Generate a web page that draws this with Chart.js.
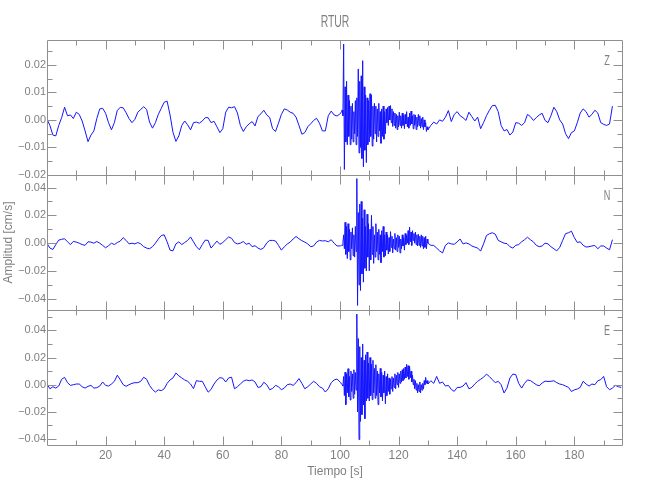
<!DOCTYPE html>
<html>
<head>
<meta charset="utf-8">
<title>RTUR</title>
<script src="https://cdn.jsdelivr.net/npm/chart.js@4.4.1/dist/chart.umd.min.js"></script>
<style>
  body { margin: 0; background: #fff; }
  #wrap { position: relative; width: 650px; height: 500px; }
  #wrap canvas { position: absolute; left: 0; top: 0; }
</style>
</head>
<body>
<div id="wrap">
  <canvas id="chartZ" width="650" height="500"></canvas>
  <canvas id="chartN" width="650" height="500"></canvas>
  <canvas id="chartE" width="650" height="500"></canvas>
</div>
<script>
// amplitudes, in 10^-3 cm/s
// pre: 1 s steps from 0 s, coda: 0.25 s steps from 100.25 s, post: 1 s steps from 130 s
const UNIT = 0.001;
const PRE_START = 0, PRE_STEP = 1;
const CODA_START = 100.25, CODA_STEP = 0.25;
const POST_START = 130, POST_STEP = 1;
const TIME_MAX = 196.6;

const zPre = [
  0.2, -2.0, -5.5, -5.8, -2.0, 0.8, 4.6, 1.5, 1.8, 0.5,
  2.8, 2.0, -0.4, -4.0, -7.9, -5.5, -4.0, 0.5, 4.0, 4.2,
  2.4, -1.0, -3.6, -1.0, 3.5, 4.5, 4.4, 2.6, 0.5, -1.0,
  0.2, 2.8, 3.8, 4.8, 3.8, -0.8, -3.0, -1.0, 2.0, 4.2,
  6.4, 6.8, 1.8, -4.5, -7.8, -5.8, -2.0, -0.4, -1.8, -3.6,
  -1.0, -0.8, -1.2, -0.4, 0.8, 0.8, -1.0, -0.5, -2.5, -4.6,
  -3.2, 2.8, 4.6, 4.4, 4.8, 2.5, -2.0, -4.2, -2.5, -1.4,
  -0.6, -2.2, 1.2, 2.2, 3.5, 1.8, 0.9, -3.2, -4.2, -1.2,
  2.0, 4.0, 3.6, 2.8, 2.4, 1.0, -2.0, -5.2, -4.6, -2.5,
  -1.4, -0.2, 0.6, -1.2, -4.0, -4.0, 1.5, 3.2, 1.8, 1.4,
  2.2
];
const zCoda = [
  2.4, 3.0, 3.6, 1.5, 27.5, -18, 12, -8, 14, -9,
  9, -6, 7, -9, 5, -7, 6, -8, 3, -5,
  7, -9, 8, -6, 18.5, -12, 14, -10, 16, -14,
  21.5, -17, 12, -11, 9, -15.5, 8, -9, 7, -8,
  9.5, -6, 9, -9.5, 5, -7, 6, -5, 5, -8,
  4, -6, 6, -4, 3, -8.5, 4, -6, 5, -7,
  3, -5, 4, -1, 4.5, -2, 5, 0, 5.2, -1,
  4, -2.4, 3, -2, 2.5, -3, 2, -3.5, 1.5, -2.5,
  2.8, -2, 1.5, -3, 2.5, -2, 1.8, -3.2, 2, -1.5,
  3, -2.5, 1, -3, 2.5, -2, 3.2, -1.5, 1.5, -3.2,
  2, -2, 1.8, -3.5, 1, -2.5, 2, -2, 1.5, -3,
  0.5, -2.5, 1, -3.5, 0, -2.5, -1, -4.2, -2.5
];
const zPost = [
  -3.6, -2.0, -0.8, -1.5, 0.0, -0.5, 1.0, 3.4, -0.6, 2.0,
  3.0, 1.5, 0.8, -0.2, 2.8, 1.2, -0.4, 1.0, -3.2, -1.0,
  1.5, 3.5, 5.2, 5.3, 3.0, -2.0, -4.0, -3.5, -5.5, -4.4,
  -1.0, -1.2, -2.0, -1.0, 2.0, 1.2, -0.2, 0.8, 1.8, 2.4,
  -0.2, -1.0, 1.5, 4.6, 3.0, 0, -1.5, -5.0, -6.8, -4.6,
  -4.0, -1.0, 2.5, 4.0, 3.0, 1.0, 2.0, 3.5, 2.5, -1.0,
  -1.6, -2.0, -1.5, 5.0
];

const nPre = [
  -0.2, -3.5, -4.5, -1.0, 2.2, 2.8, 3.2, 1.0, -1.0, 1.3,
  0.8, 0, -1.0, -1.5, 1.0, 0.8, 0, 1.2, 0, -1.6,
  -3.3, -1.8, 0, -1.0, 0.5, 1.5, 4.0, 2.0, -0.5, 0,
  -0.5, 0.5, -0.5, -2.5, -3.5, -4.0, -2.5, 0, 3.0, 5.5,
  6.0, 1.0, -5.0, -5.5, -0.5, 1.0, -1.0, 0.5, 2.0, 4.5,
  1.0, -2.5, -4.7, -1.0, 2.2, 2.0, -3.5, -1.0, 1.5, -0.8,
  0.5, 2.5, 4.5, 3.5, 0.5, -0.5, 0, 1.2, -0.8, 0,
  -2.5, -1.8, -3.5, -4.5, -3.2, 0.2, 2.0, 2.0, 1.6, -1.5,
  -5.0, -2.6, -0.6, 0.8, 3.0, 4.8, 3.2, 1.8, 0.8, -0.5,
  -2.5, -2.0, 0.8, 2.0, 1.6, 1.8, 1.0, 2.5, 0, -2.0,
  -2.0
];
const nCoda = [
  -1.8, -1.5, -1.6, 0.5, 6, -4, 15, -8, 12, -11,
  14, -6, 10, -12, 8, -4, 11, -9, 6, -10,
  12, -6, 46.4, -44.7, 22, -30, 28, -34, 30, -22,
  18, -28, 24, -18, 12, -20, 20.8, -10, 14, -19.8,
  10, -12, 20, -8, 12, -14.5, 6, -10, 14, -6,
  8, -12, 10, -8, 6, -14, 9, -6, 12, -10,
  6, -9, 8, -5, 6, -7.8, 4, -6, 8.3, -3,
  5, -7, 3, -4, 7, -5, 4, -6, 6, -3,
  5, -7, 3, -4, 6, -2, 4, -5, 7, -1,
  6, 0, 9, -1, 11.6, 1, 8, -1.6, 9, 2,
  7, 0, 8, -1, 6, -2, 6.5, -1.5, 5, -3,
  6, -2, 5, -4, 4, -3, 5, -4, 3
];
const nPost = [
  0, -1.5, -1.6, -3.5, -5.5, -7.0, -1.5, 0.2, -0.5, -0.8,
  1.0, 3.0, -0.5, 0.2, -0.5, -2.0, -2.8, -3.5, -5.7, -0.5,
  5.5, 6.8, 7.5, 6.5, 2.0, 1.0, 0, -0.3, -2.5, -3.5,
  -1.5, -1.0, 1.0, 2.5, 4.3, 2.5, 1.0, -1.5, -2.5, -2.0,
  0, -0.5, -2.5, -4.0, -5.5, -3.0, 2.0, 6.9, 7.5, 8.6,
  4.0, 0.5, 1.0, -1.5, -2.8, -2.5, -2.0, -1.6, -4.0, -2.0,
  -2.0, -3.5, -4.7, 2.5
];

const ePre = [
  0.5, -3.0, -1.5, -2.5, -1.0, 4.0, 5.4, 1.5, -0.5, 0,
  0.5, 0.5, -1.5, -2.5, -1.2, -0.5, -2.5, -2.2, -1.0, 2.0,
  -0.5, -1.0, 0.5, 2.5, 7.0, 3.7, 0, -1.2, 0, 1.0,
  1.5, 1.5, 2.5, 5.5, 4.0, -0.5, -3.5, -5.4, -3.8, -4.4,
  -3.0, 1.0, 3.5, 5.0, 8.6, 6.5, 5.0, 3.5, 2.5, 0.5,
  -2.9, 3.0, 2.5, 2.5, -1.5, -5.5, -3.5, 0.5, 3.4, 5.2,
  4.8, 2.0, 5.0, 5.5, -3.0, -1.5, 0.5, 2.5, 3.5, 2.9,
  3.5, 2.0, -2.0, -1.5, 1.8, 0, -3.7, -2.8, -0.5, -1.5,
  -3.7, -2.5, 0, 0.5, -0.5, 1.5, 4.5, 1.0, -3.0, -1.5,
  0.5, 2.5, 1.0, -1.5, -2.5, -5.4, -3.0, 1.5, 3.5, 4.2,
  2.0
];
const eCoda = [
  1.5, 0.5, 0, -1, 6, -8, 9.3, -14.7, 8, -6,
  11.8, -9, 6, -11.3, 10, -5, 8, -10, 11, -7,
  9, -4, 52, -20, 34, -40.4, 28, -27, 20, -22,
  30, -15, 18, -25, 22, -12, 24, -10, 16, -12,
  20, -8, 15, -11, 18, -6, 12, -10, 14.7, -8,
  10, -14.7, 8, -6, 12, -9, 9, -12, 7, -6,
  10, -14, 6, -8, 8, -5, 5, -7, 4, -3,
  6, -5, 5, -2, 8, -3, 7, 0, 9, -2,
  8, 1, 10, 2, 11, 3, 12, 4, 13, 5,
  15, 6, 14, 4, 13.5, 5, 10, 2, 7, 0,
  4, -3, 3, -4, 1, -6, 0, -5, 2, -6.1,
  0, -4, 1, -3, 3, 0, 5.4, 1, 3
];
const ePost = [
  0.5, 2.9, 1.0, 6.1, 1.0, 2.0, -1.0, -0.5, -3.5, -4.9,
  -2.0, -2.0, -1.0, 1.5, -3.0, -2.0, 0.5, 2.5, 4.0, 5.5,
  7.8, 6.0, 3.7, 1.5, 2.5, 0, -6.1, -2.5, 4.9, 7.8,
  7.4, 1.0, -2.5, 1.0, 3.5, 3.0, 1.5, 0, -0.8, 1.2,
  2.6, 2.4, 2.5, 2.9, 1.5, 0.5, 0, -1.0, -2.0, -5.0,
  -3.8, -3.2, -2.0, 2.5, 0.5, -1.0, 0.5, 0, 2.9, 3.7,
  6.1, -1.5, -3.7, -2.5, -0.5, -1.5, -2.0
];

// tick labels
const zTicks = [-0.02, -0.01, 0, 0.01, 0.02];
const nTicks = [-0.04, -0.02, 0, 0.02, 0.04];
const eTicks = [-0.04, -0.02, 0, 0.02, 0.04];
const timeTicks = [20, 40, 60, 80, 100, 120, 140, 160, 180];
const TIME_MINOR = 10;

const AXIS_GREY = '#8f8f8f';
const TEXT_GREY = '#808080';
const TRACE_BLUE = '#1414ff';
const FONT = "'Liberation Sans', sans-serif";

function toPoints(pre, coda, post) {
  const pts = [];
  pre.forEach((a, i) => pts.push({ x: PRE_START + i * PRE_STEP, y: a * UNIT }));
  coda.forEach((a, i) => pts.push({ x: CODA_START + i * CODA_STEP, y: a * UNIT }));
  post.forEach((a, i) => pts.push({ x: POST_START + i * POST_STEP, y: a * UNIT }));
  return pts;
}

function fmt(v) {
  if (Math.abs(v) < 1e-9) return '0.00';
  return (v < 0 ? '\u2212' : '') + Math.abs(v).toFixed(2);
}

// narrow text, the original uses a condensed stroke font
function narrowText(ctx, text, x, y, size, squeeze) {
  ctx.save();
  ctx.font = size + 'px ' + FONT;
  ctx.translate(x, y);
  ctx.scale(squeeze, 1);
  ctx.fillText(text, 0, 0);
  ctx.restore();
}

// box round each panel, inward ticks on all four sides, component letter
const seisFrame = {
  id: 'seisFrame',
  afterDraw(chart, args, o) {
    const { ctx, chartArea: a } = chart;
    const x = chart.scales.x, y = chart.scales.y;
    // panels share their edge line: bottom of one = top of the next
    const L = Math.round(a.left) + 0.5, R = Math.round(a.right) - 0.5;
    const T = Math.round(a.top) + 0.5, B = Math.round(a.bottom) + 0.5;
    ctx.save();
    ctx.strokeStyle = AXIS_GREY;
    ctx.lineWidth = 1;
    ctx.beginPath();
    ctx.rect(L, T, R - L, B - T);
    for (let k = 1; k * TIME_MINOR < x.max; k++) {
      const px = Math.round(x.getPixelForValue(k * TIME_MINOR)) + 0.5;
      const len = k % 2 === 0 ? 9 : 5;
      ctx.moveTo(px, T); ctx.lineTo(px, T + len);
      ctx.moveTo(px, B); ctx.lineTo(px, B - len);
    }
    const k0 = Math.ceil(y.min / o.minor - 1e-6), k1 = Math.floor(y.max / o.minor + 1e-6);
    for (let k = k0; k <= k1; k++) {
      const py = Math.round(y.getPixelForValue(k * o.minor)) + 0.5;
      const len = k % o.ratio === 0 ? 9 : 5;
      ctx.moveTo(L, py); ctx.lineTo(L + len, py);
      ctx.moveTo(R, py); ctx.lineTo(R - len, py);
    }
    ctx.stroke();

    ctx.fillStyle = TEXT_GREY;
    ctx.textAlign = 'center';
    ctx.textBaseline = 'middle';
    narrowText(ctx, o.letter, a.right - 16, a.top + 21, 14, 0.65);
    if (o.title) {
      narrowText(ctx, o.title, (a.left + a.right) / 2, a.top - 17, 16, 0.65);
    }
    ctx.restore();
  }
};

function makePanel(id, points, p) {
  return new Chart(document.getElementById(id), {
    type: 'line',
    data: {
      datasets: [{
        data: points,
        borderColor: TRACE_BLUE,
        borderWidth: 1,
        pointRadius: 0,
        tension: 0
      }]
    },
    options: {
      responsive: false,
      animation: false,
      events: [],
      layout: { padding: { left: 0, right: 27, top: p.top, bottom: p.bottom } },
      plugins: {
        legend: { display: false },
        tooltip: { enabled: false },
        seisFrame: { letter: p.letter, title: p.title, minor: p.minor, ratio: p.ratio }
      },
      scales: {
        x: {
          type: 'linear',
          min: 0,
          max: TIME_MAX,
          display: p.showTime,
          afterFit: s => { s.height = p.showTime ? 55 : 0; },
          afterBuildTicks: s => { s.ticks = timeTicks.map(v => ({ value: v })); },
          grid: { display: false, drawTicks: false },
          border: { display: false },
          ticks: {
            color: TEXT_GREY,
            font: { family: FONT, size: 12 },
            padding: 3,
            autoSkip: false,
            maxRotation: 0,
            callback: v => String(v)
          },
          title: {
            display: p.showTime,
            text: 'Tiempo [s]',
            color: TEXT_GREY,
            font: { family: FONT, size: 12 },
            padding: { top: 0, bottom: 21 }
          }
        },
        y: {
          min: p.min,
          max: p.max,
          afterFit: s => { s.width = 47; },
          afterBuildTicks: s => { s.ticks = p.ticks.map(v => ({ value: v })); },
          grid: { display: false, drawTicks: false },
          border: { display: false },
          ticks: {
            color: TEXT_GREY,
            font: { family: FONT, size: 11 },
            padding: 1,
            autoSkip: false,
            callback: v => fmt(v)
          },
          title: {
            display: !!p.yTitle,
            text: p.yTitle || '',
            color: TEXT_GREY,
            font: { family: FONT, size: 12 },
            padding: { top: 1, bottom: 0 }
          }
        }
      }
    },
    plugins: [seisFrame]
  });
}

makePanel('chartZ', toPoints(zPre, zCoda, zPost), {
  top: 40, bottom: 325, min: -0.02, max: 0.029, ticks: zTicks,
  minor: 0.005, ratio: 2, letter: 'Z', title: 'RTUR', showTime: false
});
makePanel('chartN', toPoints(nPre, nCoda, nPost), {
  top: 175, bottom: 190, min: -0.048, max: 0.049, ticks: nTicks,
  minor: 0.01, ratio: 2, letter: 'N', yTitle: 'Amplitud [cm/s]', showTime: false
});
makePanel('chartE', toPoints(ePre, eCoda, ePost), {
  top: 310, bottom: 0, min: -0.0444, max: 0.055, ticks: eTicks,
  minor: 0.01, ratio: 2, letter: 'E', showTime: true
});
</script>
</body>
</html>
